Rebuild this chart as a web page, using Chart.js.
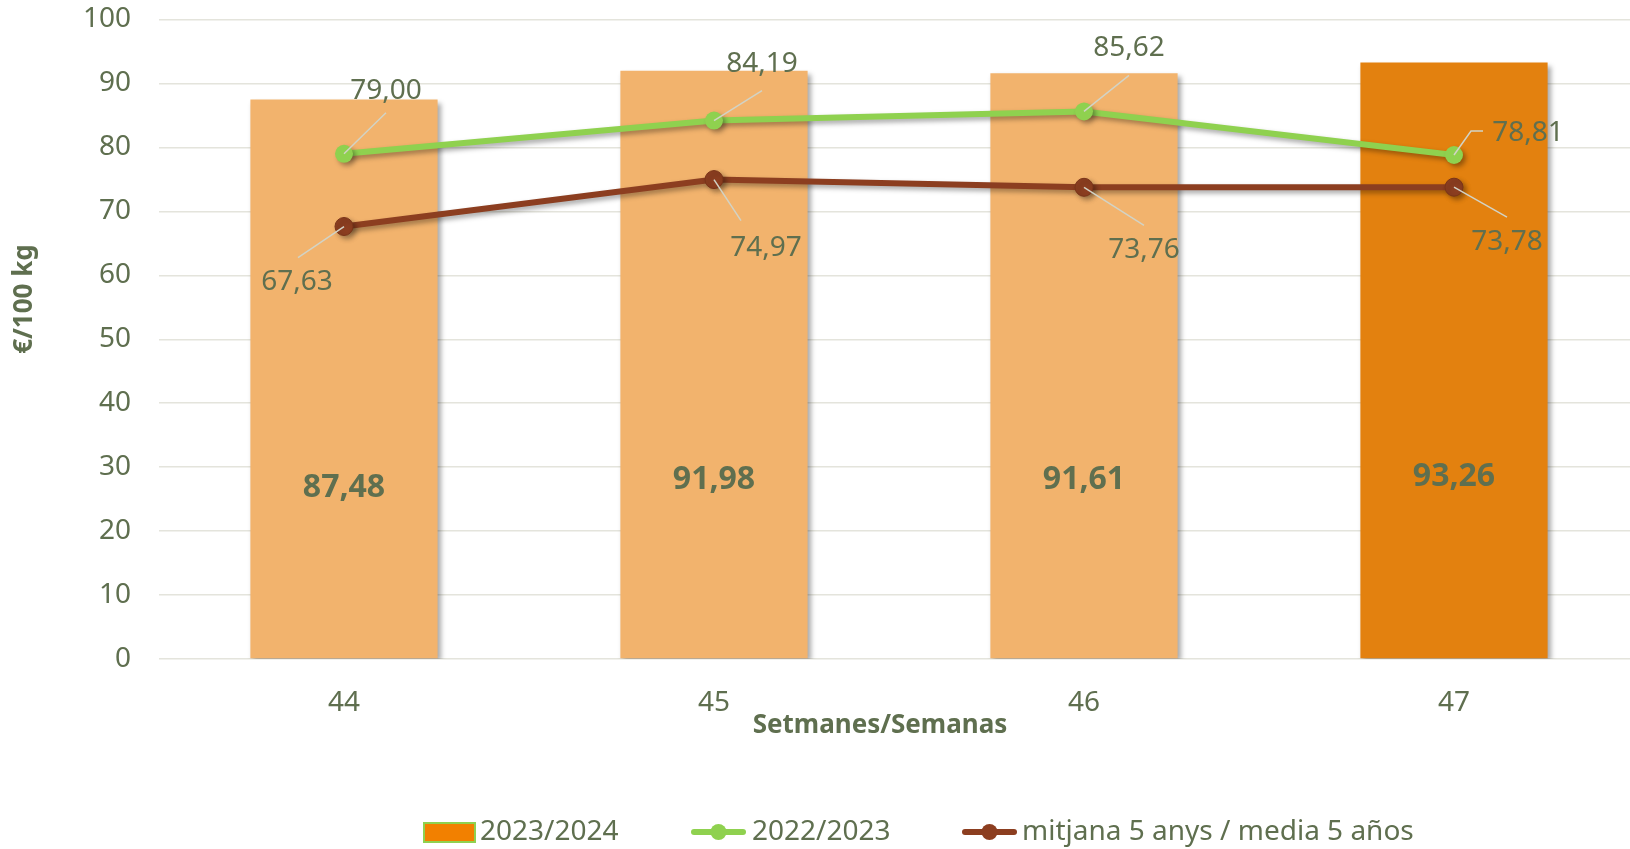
<!DOCTYPE html>
<html>
<head>
<meta charset="utf-8">
<title>Preu setmanal</title>
<script src="https://cdn.jsdelivr.net/npm/chart.js@4.4.1/dist/chart.umd.min.js"></script>
<style>
  html, body { margin: 0; padding: 0; background: #fff; overflow: hidden; }
  #chart { display: block; }
</style>
</head>
<body>
<canvas id="chart" width="1649" height="849"></canvas>
<script>
// Data
const weeks = ["44", "45", "46", "47"];
const season2324 = [87.48, 91.98, 91.61, 93.26];
const season2223 = [79.0, 84.19, 85.62, 78.81];
const average5y = [67.63, 74.97, 73.76, 73.78];
const seriesNames = ["2023/2024", "2022/2023", "mitjana 5 anys / media 5 años"];

const textColor = "#5f6f4f";
const font = "'Noto Sans', 'Open Sans', sans-serif";
const barColors = ["#f2b36d", "#f2b36d", "#f2b36d", "#e3810f"];
const green = "#8fd14f";
const brown = "#8c3e20";

const fmt = (v) => v.toFixed(2).replace(".", ",");

// label placement around each point (pixels): [label dx, dy, leader end dx, dy]
const greenLabelPos = [[42, -63, 42, -41], [48, -57, 48, -30], [45, -63, 45, -36], [74, -22, 29, -24]];
const brownLabelPos = [[-47, 56, -46, 31], [52, 68, 27, 41], [60, 63, 60, 38], [53, 55, 53, 30]];

// Excel style drop shadow on bars and lines
const shadowPlugin = {
  id: "shadow",
  beforeDatasetDraw(chart) {
    const ctx = chart.ctx;
    ctx.save();
    ctx.shadowColor = "rgba(0,0,0,0.35)";
    ctx.shadowBlur = 5;
    ctx.shadowOffsetX = 3;
    ctx.shadowOffsetY = 3;
  },
  afterDatasetDraw(chart) {
    chart.ctx.restore();
  },
};

// value labels, axis titles and legend
const labelsPlugin = {
  id: "labels",
  afterDatasetsDraw(chart) {
    const ctx = chart.ctx;
    const y = chart.scales.y;
    ctx.save();
    ctx.fillStyle = textColor;
    ctx.textAlign = "center";
    ctx.textBaseline = "middle";

    // bar values, about a third of the way up the bar
    ctx.font = "bold 32px " + font;
    chart.getDatasetMeta(0).data.forEach((bar, i) => {
      ctx.fillText(fmt(season2324[i]), bar.x, y.getPixelForValue(season2324[i] * 0.305));
    });

    // line values with leader lines
    const drawLineLabels = (dsIndex, values, pos) => {
      chart.getDatasetMeta(dsIndex).data.forEach((pt, i) => {
        const p = pos[i];
        ctx.strokeStyle = "#d2d3c6";
        ctx.lineWidth = 1.5;
        ctx.beginPath();
        ctx.moveTo(pt.x, pt.y);
        if (dsIndex === 1 && i === 3) {
          ctx.lineTo(pt.x + 17, pt.y + p[3]);
        }
        ctx.lineTo(pt.x + p[2], pt.y + p[3]);
        ctx.stroke();
        ctx.font = "28px " + font;
        ctx.fillText(fmt(values[i]), pt.x + p[0], pt.y + p[1]);
      });
    };
    drawLineLabels(1, season2223, greenLabelPos);
    drawLineLabels(2, average5y, brownLabelPos);
    ctx.restore();
  },
  afterDraw(chart) {
    const ctx = chart.ctx;
    ctx.save();
    ctx.fillStyle = textColor;
    ctx.textBaseline = "middle";

    // axis titles
    ctx.font = "bold 26px " + font;
    ctx.textAlign = "center";
    ctx.fillText("Setmanes/Semanas", 880, 726);
    ctx.save();
    ctx.translate(25, 299);
    ctx.rotate(-Math.PI / 2);
    ctx.fillText("€/100 kg", 0, 0);
    ctx.restore();

    // legend
    const ly = 832;
    ctx.font = "28px " + font;
    ctx.textAlign = "left";
    ctx.fillStyle = "#f28000";
    ctx.fillRect(424, 823, 51, 19);
    ctx.strokeStyle = green;
    ctx.lineWidth = 2;
    ctx.strokeRect(424, 823, 51, 19);
    ctx.fillStyle = textColor;
    ctx.fillText(seriesNames[0], 480, ly);

    const lineMarker = (x0, color) => {
      ctx.strokeStyle = color;
      ctx.lineWidth = 6;
      ctx.lineCap = "round";
      ctx.beginPath();
      ctx.moveTo(x0 + 3, ly);
      ctx.lineTo(x0 + 52, ly);
      ctx.stroke();
      ctx.fillStyle = color;
      ctx.beginPath();
      ctx.arc(x0 + 27.5, ly, 8, 0, Math.PI * 2);
      ctx.fill();
    };
    lineMarker(691, green);
    ctx.fillStyle = textColor;
    ctx.fillText(seriesNames[1], 752, ly);
    lineMarker(962, brown);
    ctx.fillStyle = textColor;
    ctx.fillText(seriesNames[2], 1022, ly);
    ctx.restore();
  },
};

const ctx = document.querySelector("#chart").getContext("2d");
new Chart(ctx, {
  type: "bar",
  data: {
    labels: weeks,
    datasets: [
      {
        type: "bar",
        label: seriesNames[0],
        data: season2324,
        backgroundColor: barColors,
        categoryPercentage: 1,
        barPercentage: 0.506,
        order: 3,
      },
      {
        type: "line",
        label: seriesNames[1],
        data: season2223,
        borderColor: green,
        backgroundColor: green,
        borderWidth: 6,
        pointRadius: 9,
        pointBackgroundColor: green,
        pointBorderColor: green,
        pointBorderWidth: 0,
        tension: 0,
        order: 1,
      },
      {
        type: "line",
        label: seriesNames[2],
        data: average5y,
        borderColor: brown,
        backgroundColor: brown,
        borderWidth: 6,
        pointRadius: 9,
        pointBackgroundColor: brown,
        pointBorderColor: "#7a3419",
        pointBorderWidth: 1,
        tension: 0,
        order: 2,
      },
    ],
  },
  plugins: [shadowPlugin, labelsPlugin],
  options: {
    responsive: false,
    animation: false,
    layout: { padding: { top: 19.5, right: 3, left: 0, bottom: 0 } },
    plugins: {
      legend: { display: false },
      tooltip: { enabled: false },
    },
    scales: {
      x: {
        grid: { display: false },
        border: { display: false },
        ticks: { color: textColor, font: { family: font, size: 28 }, padding: 19 },
        afterFit: (s) => {
          s.height = 190;
          s.paddingLeft = 0;
          s.paddingRight = 0;
        },
      },
      y: {
        min: 0,
        max: 100,
        ticks: { stepSize: 10, color: textColor, font: { family: font, size: 28 }, padding: 28 },
        grid: { color: "#e4e4dc", lineWidth: 1.5, drawTicks: false },
        border: { display: false },
        afterFit: (s) => {
          s.width = 159;
          s.paddingTop = 0;
          s.paddingBottom = 0;
        },
      },
    },
  },
});
</script>
</body>
</html>
